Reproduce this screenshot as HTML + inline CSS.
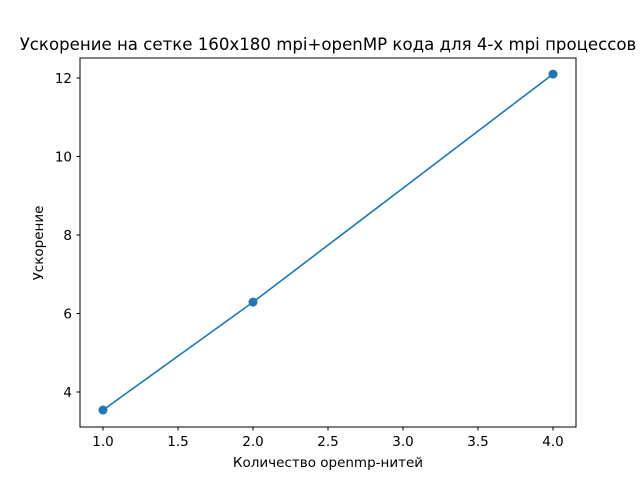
<!DOCTYPE html>
<html><head><meta charset="utf-8"><style>body{margin:0;background:#fff}svg{display:block}text{font-family:"DejaVu Sans","Liberation Sans",sans-serif;fill:#000}</style></head>
<body>
<svg id="chart" width="640" height="480" xmlns="http://www.w3.org/2000/svg">
<rect width="640" height="480" fill="#fff"/>
<text x="328" y="50" text-anchor="middle" font-size="16.6">Ускорение на сетке 160x180 mpi+openMP кода для 4-х mpi процессов</text>
<g id="plot"></g>
<rect x="80" y="58" width="496" height="369" fill="none" stroke="#000" stroke-width="1"/>
<text x="328" y="467" text-anchor="middle" font-size="13.5">Количество openmp-нитей</text>
<text transform="translate(43,243) rotate(-90)" text-anchor="middle" font-size="13.5">Ускорение</text>
</svg>
<script>
const threads = [1, 2, 4];
const speedup = [3.54, 6.29, 12.1];
const xTickLabels = ["1.0","1.5","2.0","2.5","3.0","3.5","4.0"];
const yTickLabels = ["4","6","8","10","12"];
const NS="http://www.w3.org/2000/svg";
const X=v=>103+(v-1)*150;
const Y=v=>392-(v-4)*39.25;
const g=document.getElementById('plot');
function mk(t,a){const e=document.createElementNS(NS,t);for(const k in a)e.setAttribute(k,a[k]);g.appendChild(e);return e;}
xTickLabels.forEach(l=>{const v=parseFloat(l),x=X(v);
const t=mk('line',{x1:x,x2:x,y1:427,y2:430.5,stroke:'#000'});


const s=mk('text',{x:x,y:446,'text-anchor':'middle','font-size':'13.5'});s.textContent=l;

});
yTickLabels.forEach(l=>{const v=parseFloat(l),y=Y(v);
const t=mk('line',{x1:76.5,x2:80,y1:y,y2:y,stroke:'#000'});


const s=mk('text',{x:72,y:y+5,'text-anchor':'end','font-size':'13.5'});s.textContent=l;

});
const line=mk('polyline',{points:threads.map((t,i)=>X(t)+','+Y(speedup[i])).join(' '),fill:'none',stroke:'#1f77b4','stroke-width':1.6});


threads.forEach((t,i)=>{const c=mk('circle',{cx:X(t),cy:Y(speedup[i]),r:4.5,fill:'#1f77b4'});

});
</script>
</body></html>
